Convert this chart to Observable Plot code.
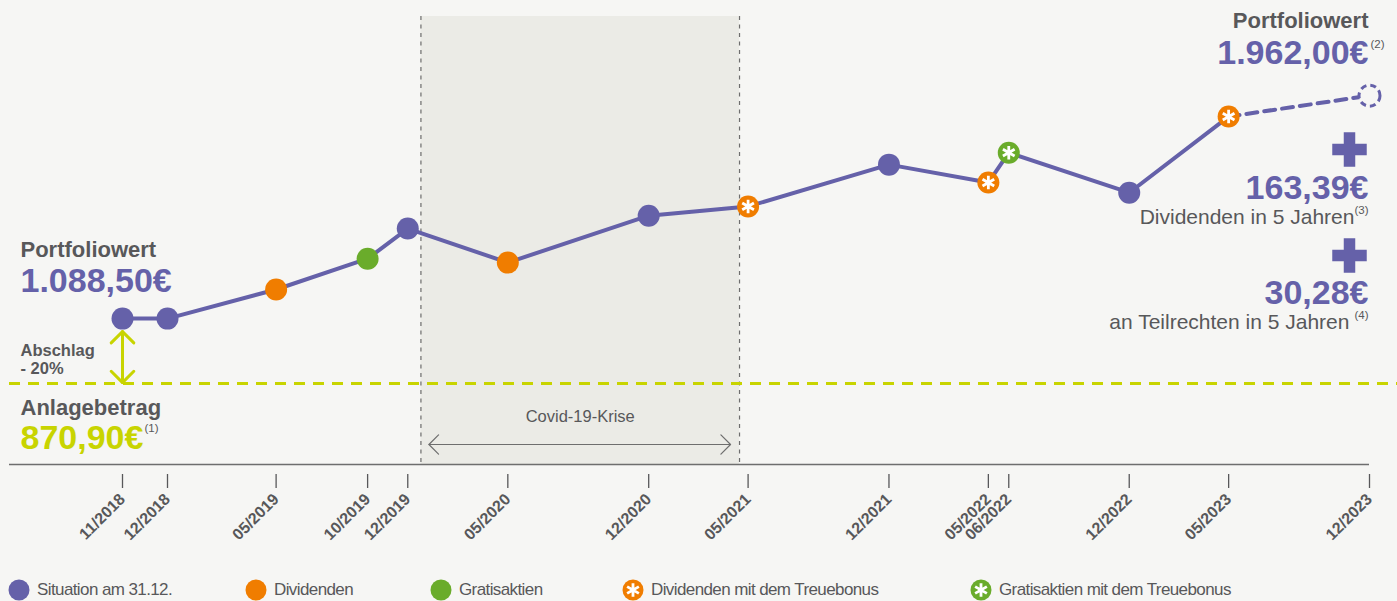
<!DOCTYPE html>
<html>
<head>
<meta charset="utf-8">
<script src="https://cdn.jsdelivr.net/npm/d3@7"></script>
<script src="https://cdn.jsdelivr.net/npm/@observablehq/plot@0.6"></script>
<style>
  html, body { margin: 0; padding: 0; background: #f6f6f4; width: 1397px; height: 601px; overflow: hidden;
    font-family: "Liberation Sans", Arial, sans-serif; }
  #chart svg { display: block; }
  #legend { position: relative; height: 26px; }
  .item { position: absolute; top: 4px; height: 22px; display: flex; align-items: center; font-size: 17px;
    color: #58585a; letter-spacing: -0.6px; white-space: nowrap; }
  .item svg { display: block; margin-right: 7px; }
</style>
</head>
<body>
<div id="chart"></div>
<div id="legend"></div>
<script>
// ---------- data ----------
const dates  = ["2018-11-01","2018-12-01","2019-05-15","2019-10-01","2019-12-01","2020-05-01","2020-12-01","2021-05-01","2021-12-01","2022-05-01","2022-06-01","2022-12-01","2023-05-01","2023-12-01"];
const values = [1088.5, 1088.5, 1186, 1289, 1390, 1276, 1433, 1464, 1604, 1544, 1644, 1510, 1765, 1835];
const kinds  = ["situation","situation","dividend","bonus","situation","dividend","situation","dividendLoyal","situation","dividendLoyal","bonusLoyal","situation","dividendLoyal","forecast"];
const investment = 870.90;
const axisBase = 600;
const covidPeriod = ["2019-12-21", "2021-04-18"];
const covidLabel = "Covid-19-Krise";

const legendKinds  = ["situation","dividend","bonus","dividendLoyal","bonusLoyal"];
const legendLabels = ["Situation am 31.12.","Dividenden","Gratisaktien","Dividenden mit dem Treuebonus","Gratisaktien mit dem Treuebonus"];

const leftTexts  = ["Portfoliowert","1.088,50€","Abschlag","- 20%","Anlagebetrag","870,90€","(1)"];
const rightTexts = ["Portfoliowert","1.962,00€","(2)","163,39€","Dividenden in 5 Jahren","(3)","30,28€","an Teilrechten in 5 Jahren","(4)"];

// ---------- styles ----------
const PURPLE = "#6561a9", ORANGE = "#f07d00", GREEN = "#6aac2b", LIME = "#c8d400",
      GRAY = "#58585a", BG = "#f6f6f4", SHADE = "#ebebe6", LINEGRAY = "#6e6e6e";
const kindFill = {situation: PURPLE, dividend: ORANGE, bonus: GREEN, dividendLoyal: ORANGE, bonusLoyal: GREEN};
const loyal = new Set(["dividendLoyal","bonusLoyal"]);
const FONT = '"Liberation Sans", Arial, sans-serif';

const rows = dates.map((d, i) => ({date: new Date(d), value: values[i], kind: kinds[i]}));
const covid = {start: new Date(covidPeriod[0]), end: new Date(covidPeriod[1])};
covid.mid = new Date((+covid.start + +covid.end) / 2);
const solidRows = rows.filter(d => d.kind !== "forecast");
const lastSolid = solidRows[solidRows.length - 1];
const forecastRows = [lastSolid, ...rows.filter(d => d.kind === "forecast")];

const ctx = document.createElement("canvas").getContext("2d");
function tw(str, size, weight) { ctx.font = `${weight} ${size}px "Liberation Sans"`; return ctx.measureText(str).width; }

function label(str, side, dx, dy, size, weight, fill) {
  return Plot.text([str], {
    text: d => d, frameAnchor: side === "left" ? "top-left" : "top-right",
    textAnchor: side === "left" ? "start" : "end", lineAnchor: "middle",
    dx, dy, fontSize: size, fontWeight: weight, fill
  });
}
function sup(str, side, dx, dy) {
  return Plot.text([str], {
    text: d => d, frameAnchor: side === "left" ? "top-left" : "top-right",
    textAnchor: "start", lineAnchor: "middle", dx, dy, fontSize: 11.5, fill: GRAY
  });
}

const BIG = 34, MID = 22, SMALL = 16.5;
const RX = -29; // right text end offset from right frame edge
const SUP = 11.5;

const chart = Plot.plot({
  width: 1397, height: 575,
  marginTop: 16, marginBottom: 111, marginLeft: 9, marginRight: 0,
  style: {background: "transparent", fontFamily: FONT, overflow: "visible"},
  x: {type: "utc", domain: [rows[0].date, rows[1].date, rows[rows.length - 1].date], range: [122, 167, 1369]},
  y: {domain: [axisBase, 2100], axis: null},
  marks: [
    Plot.rect([covid], {x1: "start", x2: "end", fill: SHADE}),
    Plot.ruleX([covid.start, covid.end], {stroke: LINEGRAY, strokeWidth: 1.2, strokeDasharray: "4,4.5"}),
    Plot.ruleY([axisBase], {stroke: LINEGRAY, strokeWidth: 1.6, insetRight: 28}),
    Plot.ruleY([investment], {stroke: LIME, strokeWidth: 3, strokeDasharray: "11,8"}),
    // covid arrow (double-headed)
    Plot.arrow([covid], {x1: "start", x2: "end", y: axisBase, dy: -20, insetStart: 8, insetEnd: 9, stroke: LINEGRAY, strokeWidth: 1.2, headLength: 17, headAngle: 90}),
    Plot.arrow([covid], {x1: "end", x2: "start", y: axisBase, dy: -20, insetStart: 9, insetEnd: 8, stroke: LINEGRAY, strokeWidth: 1.2, headLength: 17, headAngle: 90}),
    Plot.text([covidLabel], {x: () => covid.mid, frameAnchor: "bottom", dy: -48, text: d => d, fontSize: 16.5, fill: GRAY, lineAnchor: "middle"}),
    // Abschlag arrow
    Plot.arrow([rows[0]], {x: "date", y1: () => investment, y2: "value", insetStart: 1, insetEnd: 13, stroke: LIME, strokeWidth: 3, headLength: 8, headAngle: 90}),
    Plot.arrow([rows[0]], {x: "date", y1: "value", y2: () => investment, insetStart: 13, insetEnd: 1, stroke: LIME, strokeWidth: 3, headLength: 8, headAngle: 90}),
    // value line
    Plot.line(solidRows, {x: "date", y: "value", stroke: PURPLE, strokeWidth: 4}),
    Plot.line(forecastRows, {x: "date", y: "value", stroke: PURPLE, strokeWidth: 4, strokeDasharray: "11,7"}),
    Plot.dot(solidRows, {x: "date", y: "value", r: 11, fill: d => kindFill[d.kind]}),
    Plot.dot(solidRows.filter(d => loyal.has(d.kind)), {x: "date", y: "value", r: 6.4, symbol: "asterisk", stroke: "white", strokeWidth: 2.8}),
    Plot.dot(rows.filter(d => d.kind === "forecast"), {x: "date", y: "value", r: 10.5, fill: BG, stroke: PURPLE, strokeWidth: 3, strokeDasharray: "6,4"}),
    // x axis
    Plot.axisX(rows.map(d => d.date), {tickFormat: "%m/%Y", tickSize: 14, tickPadding: 8, dy: 10, tickRotate: -45,
      fontSize: 16, fontWeight: "bold", color: GRAY, strokeWidth: 1.3}),
    // left annotations
    label(leftTexts[0], "left", 11, 233, MID, "bold", GRAY),
    label(leftTexts[1], "left", 11, 265, BIG, "bold", PURPLE),
    label(leftTexts[2], "left", 11, 334, SMALL, "bold", GRAY),
    label(leftTexts[3], "left", 11, 352, SMALL, "bold", GRAY),
    label(leftTexts[4], "left", 11, 391, MID, "bold", GRAY),
    label(leftTexts[5], "left", 11, 422, BIG, "bold", LIME),
    sup(leftTexts[6], "left", 11 + tw(leftTexts[5], BIG, "bold") + 1, 412),
    // right annotations
    label(rightTexts[0], "right", RX, 4, MID, "bold", GRAY),
    label(rightTexts[1], "right", RX, 37, BIG, "bold", PURPLE),
    sup(rightTexts[2], "right", RX + 2, 28),
    Plot.dot([rightTexts[3]], {x: null, y: null, frameAnchor: "top-right", dx: -48, dy: 133, symbol: "cross", r: 14.5, fill: PURPLE}),
    label(rightTexts[3], "right", RX, 172, BIG, "bold", PURPLE),
    label(rightTexts[4], "right", RX - tw(rightTexts[5], SUP, "normal"), 201, 21, "normal", GRAY),
    sup(rightTexts[5], "right", RX - tw(rightTexts[5], SUP, "normal"), 194),
    Plot.dot([rightTexts[6]], {x: null, y: null, frameAnchor: "top-right", dx: -48, dy: 239, symbol: "cross", r: 14.5, fill: PURPLE}),
    label(rightTexts[6], "right", RX, 277, BIG, "bold", PURPLE),
    label(rightTexts[7], "right", RX - tw(rightTexts[8], SUP, "normal") - 5, 306, 21, "normal", GRAY),
    sup(rightTexts[8], "right", RX - tw(rightTexts[8], SUP, "normal"), 299)
  ]
});
document.getElementById("chart").appendChild(chart);

// ---------- legend ----------
const legendLeft = [8, 245, 430, 622, 970];
const asteriskPath = d3.symbol(d3.symbolAsterisk, Math.PI * 6.4 * 6.4)();
const legend = document.getElementById("legend");
legendKinds.forEach((k, i) => {
  const item = document.createElement("div");
  item.className = "item";
  item.style.left = legendLeft[i] + "px";
  const star = loyal.has(k) ? `<path d="${asteriskPath}" transform="translate(11,11)" stroke="white" stroke-width="2.8" fill="none"/>` : "";
  item.innerHTML = `<svg width="22" height="22"><circle cx="11" cy="11" r="10.5" fill="${kindFill[k]}"/>${star}</svg><span>${legendLabels[i]}</span>`;
  legend.appendChild(item);
});
</script>
</body>
</html>
